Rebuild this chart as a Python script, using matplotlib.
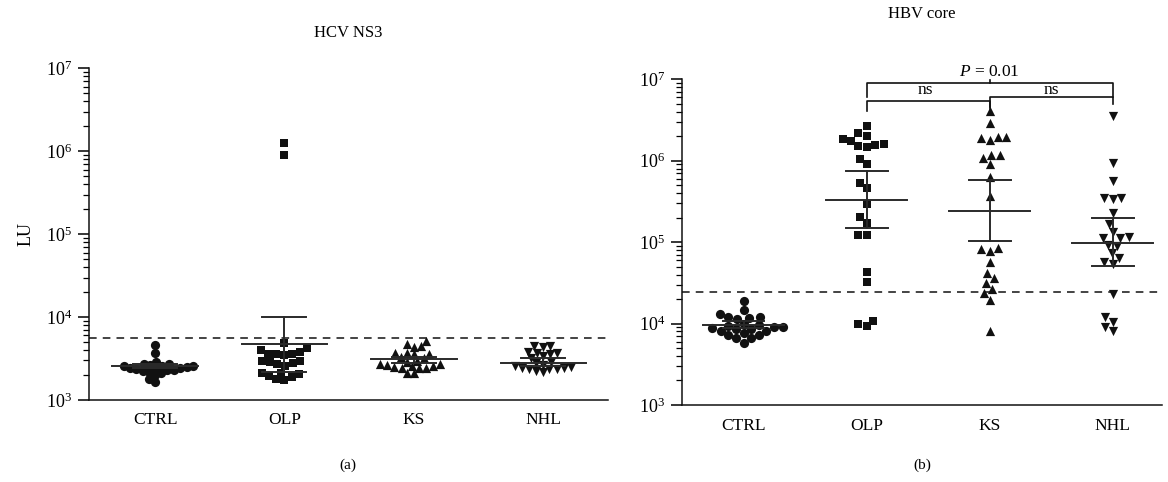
import numpy as np
import matplotlib
matplotlib.use("Agg")
import matplotlib.pyplot as plt

plt.rcParams['font.family'] = ['Liberation Serif', 'DejaVu Serif']
plt.rcParams['mathtext.fontset'] = 'custom'
plt.rcParams['mathtext.rm'] = 'Liberation Serif'
plt.rcParams['mathtext.it'] = 'Liberation Serif:italic'

categories = ["CTRL", "OLP", "KS", "NHL"]

# ---- Panel (a): HCV NS3 (LU) ----
hcv_ctrl = [4600, 3700, 2900, 2750, 2700, 2650, 2600, 2550, 2500, 2450, 2400,
            2400, 2350, 2300, 2300, 2250, 2200, 2100, 2000, 1800, 1650, 2600]
hcv_olp = [1250000, 910000, 4900, 4200, 3820, 3550, 3480, 3550, 3580, 3990,
           2970, 2840, 2690, 2580, 2760, 2950, 2130, 2060, 1910, 1740, 1770, 1960, 2130]
hcv_ks = [4730, 4390, 4510, 5140, 3650, 3580, 3580, 3720, 3270, 2970, 2890, 3180,
          2700, 2650, 2550, 2450, 2400, 2450, 2500, 2600, 2700, 2100, 2130]
hcv_nhl = [4480, 4390, 4480, 3580, 3720, 3830, 3720, 3180, 2890, 3400,
           2770, 2560, 2430, 2380, 2380, 2150, 2240, 2380, 2430, 2500, 2650]
hcv_center = [2550, 4700, 3100, 2820]
hcv_upper = [2700, 9950, 3330, 3200]
hcv_lower = [2400, 2190, 2770, 2550]
hcv_cutoff = 5600

# ---- Panel (b): HBV core (LU) ----
hbv_ctrl = [18970, 14700, 13000, 11900, 11300, 11800, 12200,
            9800, 9330, 8990, 8510, 8110, 8110, 8510, 8750, 8990, 9610,
            7250, 6600, 5820, 6600, 7250, 7600]
hbv_olp = [2.68e6, 2.18e6, 2.02e6, 1.77e6, 1.56e6, 1.47e6, 1.52e6, 1.60e6, 1.84e6,
           1.05e6, 9.06e5, 5.38e5, 4.59e5, 2.95e5, 2.02e5, 1.74e5, 1.22e5, 1.22e5,
           4.35e4, 3.27e4, 1.09e4, 9.3e3, 9.8e3]
hbv_ks = [4.13e6, 2.94e6, 1.95e6, 1.89e6, 1.80e6, 1.95e6, 1.18e6, 9.1e5, 1.07e6, 1.18e6,
          6.38e5, 3.7e5, 8.18e4, 7.87e4, 8.41e4, 5.77e4, 4.15e4, 3.6e4, 3.18e4,
          2.64e4, 2.35e4, 1.95e4, 8.1e3]
hbv_nhl = [3.55e6, 9.3e5, 5.7e5, 3.46e5, 3.37e5, 3.46e5, 2.26e5, 1.67e5,
           1.35e5, 1.12e5, 1.12e5, 1.15e5, 9.25e4, 8.98e4, 7.3e4, 6.35e4, 5.77e4, 5.4e4,
           2.31e4, 1.05e4, 1.19e4, 9.2e3, 8.2e3]
hbv_center = [9620, 3.3e5, 2.44e5, 9.86e4]
hbv_upper = [10900, 7.5e5, 5.8e5, 1.97e5]
hbv_lower = [8830, 1.48e5, 1.04e5, 5.14e4]
hbv_cutoff = 24700

markers = ["o", "s", "^", "v"]
INK = "#111111"
LINE = "#2a2a2a"

W, H = 1168, 482
fig = plt.figure(figsize=(W / 100, H / 100), dpi=100)

ax_a = fig.add_axes([89 / W, 1 - 400 / H, (608 - 89) / W, (400 - 68.3) / H])
ax_b = fig.add_axes([682 / W, 1 - 405 / H, (1162 - 682) / W, (405 - 79.3) / H])


def beeswarm(ax, xc, vals, d):
    """Return x data positions for a swarm around xc (d = marker spacing in px)."""
    pts = ax.transData.transform(np.column_stack([np.full(len(vals), xc), vals]))
    ys = pts[:, 1]
    order = np.argsort(ys)
    placed = []
    xs = np.zeros(len(vals))
    for i in order:
        y = ys[i]
        cands = [0.0]
        for (px, py) in placed:
            dy = abs(py - y)
            if dy < d:
                dx = np.sqrt(d * d - dy * dy)
                cands += [px + dx, px - dx]
        cands = sorted(cands, key=lambda c: (abs(c), c))
        for c in cands:
            ok = all((c - px) ** 2 + (y - py) ** 2 >= d * d - 1e-6 for (px, py) in placed)
            if ok:
                xs[i] = c
                placed.append((c, y))
                break
    xpix = pts[:, 0] + xs
    return ax.transData.inverted().transform(np.column_stack([xpix, ys]))[:, 0]


def panel(ax, groups, center, upper, lower, cutoff, xlim, spacing):
    ax.set_yscale("log")
    ax.set_ylim(1e3, 1e7)
    ax.set_xlim(*xlim)
    for s in ["top", "right"]:
        ax.spines[s].set_visible(False)
    for s in ["left", "bottom"]:
        ax.spines[s].set_linewidth(1.1)
        ax.spines[s].set_color(INK)
    ax.set_xticks(range(1, 5))
    ax.set_xticklabels(categories, fontsize=12.5)
    ax.tick_params(axis="x", length=0, pad=9)
    ax.set_yticks([1e3, 1e4, 1e5, 1e6, 1e7])
    ax.set_yticklabels([r"$10^{%d}$" % k for k in range(3, 8)], fontsize=13)
    ax.tick_params(axis="y", which="major", length=8, width=1.1, direction="out", pad=4)
    ax.tick_params(axis="y", which="minor", length=4, width=0.9, direction="out")
    ax.yaxis.set_minor_locator(matplotlib.ticker.LogLocator(base=10, subs=np.arange(2, 10)))
    ax.yaxis.set_minor_formatter(matplotlib.ticker.NullFormatter())
    ax.axhline(cutoff, color=INK, lw=1.1, ls=(0, (5, 4)), zorder=1)
    for k, vals in enumerate(groups):
        xc = k + 1
        xs = beeswarm(ax, xc, vals, spacing[k])
        ms = 44 if markers[k] != "s" else 40
        ax.scatter(xs, vals, marker=markers[k], s=ms, color=INK, linewidths=0, zorder=3)
        ax.plot([xc - 0.33, xc + 0.33], [center[k]] * 2, color=LINE, lw=1.4, zorder=4)
        ax.plot([xc - 0.17, xc + 0.17], [upper[k]] * 2, color=LINE, lw=1.4, zorder=4)
        ax.plot([xc - 0.17, xc + 0.17], [lower[k]] * 2, color=LINE, lw=1.4, zorder=4)
        ax.plot([xc, xc], [lower[k], upper[k]], color=LINE, lw=1.4, zorder=4)


panel(ax_a, [hcv_ctrl, hcv_olp, hcv_ks, hcv_nhl], hcv_center, hcv_upper, hcv_lower,
      hcv_cutoff, (0.49, 4.5), [6.6, 8.0, 7.2, 7.2])
panel(ax_b, [hbv_ctrl, hbv_olp, hbv_ks, hbv_nhl], hbv_center, hbv_upper, hbv_lower,
      hbv_cutoff, (0.5, 4.4), [8.6, 8.6, 8.6, 8.6])

ax_a.set_ylabel("LU", fontsize=13, labelpad=8)

# significance brackets (panel b)
kw = dict(color=INK, lw=1.2, clip_on=False, zorder=5)
ax_b.plot([2, 2, 4, 4], [6.1e6, 9.0e6, 9.0e6, 6.1e6], **kw)
ax_b.plot([3, 3], [9.0e6, 9.9e6], **kw)
ax_b.text(3, 1.23e7, r"$P$ = 0.01", ha="center", va="center", fontsize=12.5, clip_on=False)
ax_b.plot([2, 2, 3, 3], [4.13e6, 5.47e6, 5.47e6, 4.3e6], **kw)
ax_b.plot([3, 3, 4, 4], [4.6e6, 6.14e6, 6.14e6, 4.99e6], **kw)
ax_b.text(2.48, 7.3e6, "ns", ha="center", va="center", fontsize=12.5)
ax_b.text(3.5, 7.3e6, "ns", ha="center", va="center", fontsize=12.5)

fig.text(348 / W, 1 - 33 / H, "HCV NS3", ha="center", va="center", fontsize=12)
fig.text(922 / W, 1 - 14 / H, "HBV core", ha="center", va="center", fontsize=12)
fig.text(348 / W, 1 - 465 / H, "(a)", ha="center", va="center", fontsize=11)
fig.text(922 / W, 1 - 465 / H, "(b)", ha="center", va="center", fontsize=11)

fig.savefig("out.png", dpi=100)
